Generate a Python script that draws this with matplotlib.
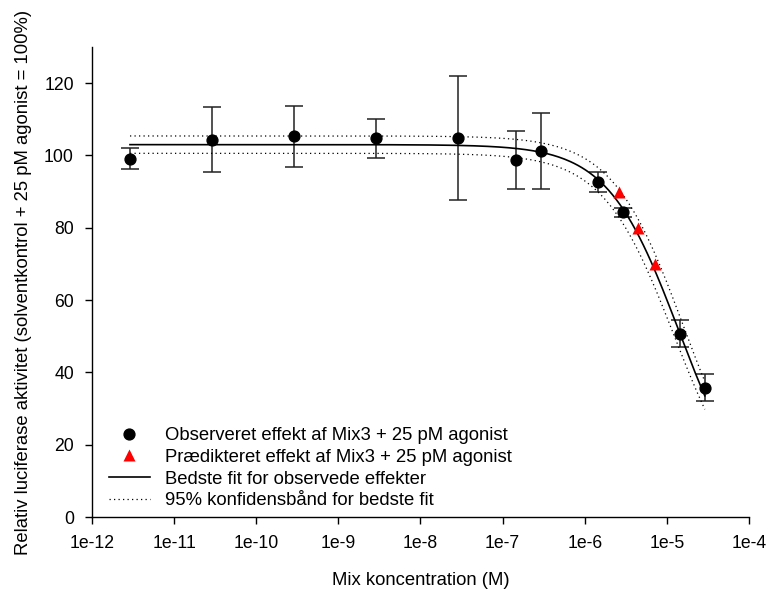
import numpy as np
import matplotlib
matplotlib.use("Agg")
import matplotlib.pyplot as plt

plt.rcParams['font.family'] = ['Liberation Sans', 'DejaVu Sans']
plt.rcParams['font.size'] = 13.3

# observed effect (mean +/- error)
conc_obs = [2.9e-12, 2.9e-11, 2.9e-10, 2.9e-9, 2.9e-8, 1.45e-7, 2.9e-7,
            1.45e-6, 2.9e-6, 1.45e-5, 2.9e-5]
eff_obs = [99.1, 104.4, 105.3, 104.7, 104.9, 98.8, 101.2, 92.6, 84.3, 50.7, 35.8]
err_obs = [2.9, 9.0, 8.5, 5.5, 17.2, 8.0, 10.6, 2.8, 1.3, 3.7, 3.8]

# predicted effect
conc_pred = [2.64e-6, 4.43e-6, 7.2e-6]
eff_pred = [90, 80, 70]

# Hill fit parameters (top, EC50, slope) for best fit and 95% band
fit_best = (103.0, 1.40e-5, 1.0)
fit_upper = (105.4, 1.60e-5, 1.0)
fit_lower = (100.6, 1.22e-5, 1.0)


def hill(x, top, ec50, h):
    return top / (1 + (x / ec50) ** h)


xs = np.logspace(np.log10(conc_obs[0]), np.log10(conc_obs[-1]), 300)

fig = plt.figure(figsize=(7.7, 5.9), dpi=100)
ax = fig.add_axes([0.1195, 0.1237, 0.8532, 0.7966])

ax.errorbar(conc_obs, eff_obs, yerr=err_obs, fmt='none', ecolor='#222222',
            elinewidth=1.1, capsize=6.5, capthick=1.1, zorder=2)
ax.plot(xs, hill(xs, *fit_best), color='black', lw=1.2, zorder=3,
        label='Bedste fit for observede effekter')
ax.plot(xs, hill(xs, *fit_upper), color='black', lw=0.9, ls=(0, (1, 2.6)), zorder=3,
        label='95% konfidensbånd for bedste fit')
ax.plot(xs, hill(xs, *fit_lower), color='black', lw=0.9, ls=(0, (1, 2.6)), zorder=3)
ax.plot(conc_obs, eff_obs, 'o', color='black', ms=7.8, zorder=4,
        label='Observeret effekt af Mix3 + 25 pM agonist')
ax.plot(conc_pred, eff_pred, '^', color='#ff0000', ms=9, mec='none', zorder=4,
        label='Prædikteret effekt af Mix3 + 25 pM agonist')

ax.set_xscale('log')
ax.set_xlim(1e-12, 1e-4)
ax.set_ylim(0, 130)
xt = [10.0 ** k for k in range(-12, -3)]
ax.set_xticks(xt)
ax.set_xticklabels(['1e-%d' % -k for k in range(-12, -3)])
ax.minorticks_off()
ax.set_yticks(range(0, 121, 20))

for s in ['top', 'right']:
    ax.spines[s].set_visible(False)
for s in ['left', 'bottom']:
    ax.spines[s].set_linewidth(1.0)
ax.tick_params(direction='out', length=5, width=1.0, pad=8, labelsize=12.7)

ax.set_xlabel('Mix koncentration (M)', fontsize=13.3, labelpad=14)
ax.set_ylabel('Relativ luciferase aktivitet (solventkontrol + 25 pM agonist = 100%)',
              fontsize=13.3, labelpad=9)

h, l = ax.get_legend_handles_labels()
order = [2, 3, 0, 1]
ax.legend([h[i] for i in order], [l[i] for i in order], loc='lower left',
          bbox_to_anchor=(0.026, 0.016), frameon=False, fontsize=13.3,
          handlelength=2.2, handletextpad=0.8, labelspacing=0.26,
          borderaxespad=0.0, borderpad=0.0)

fig.savefig('out.png', dpi=100)
